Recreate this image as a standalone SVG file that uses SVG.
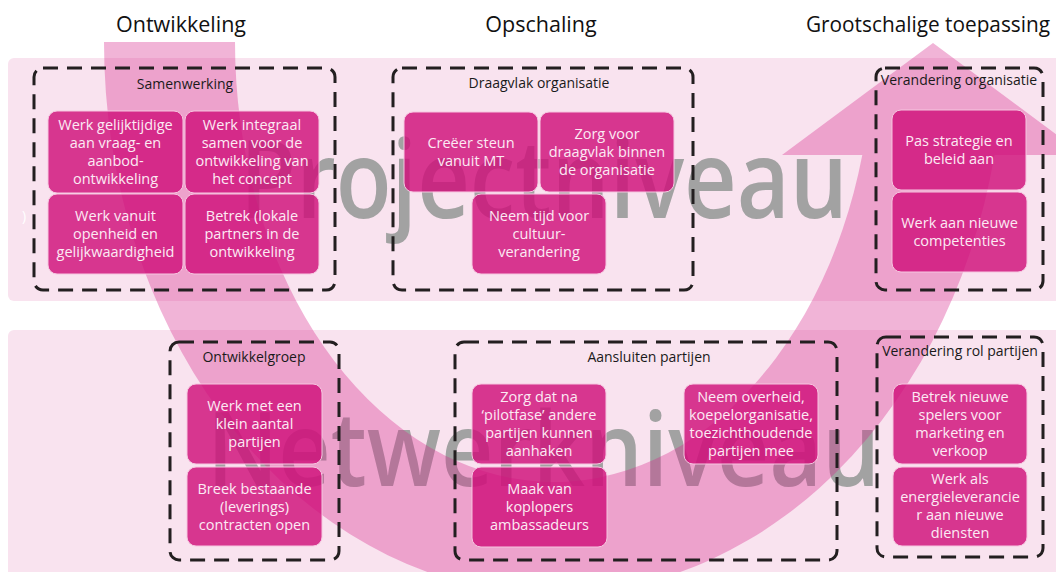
<svg xmlns="http://www.w3.org/2000/svg" width="1056" height="572" viewBox="0 0 1056 572">
<style>
text{font-family:"Open Sans","Noto Sans","DejaVu Sans",sans-serif}
.band{fill:#F9E3EF}
.wm{fill:#A2A2A2;font-weight:600}
.arrow{fill:#D6288C;fill-opacity:.35}
.box rect{fill:#D0107A;fill-opacity:.82;stroke:#F6C6E0;stroke-width:1}
.box text{fill:#FCEAF4;font-size:14.5px;text-anchor:middle}
.frame rect{fill:none;stroke:#231F20;stroke-width:3;stroke-dasharray:15 9}
.frame text{font-size:14px;fill:#1A1A1A;text-anchor:middle}
.hdr{font-size:21.5px;fill:#111}
</style>
<rect width="1056" height="572" fill="#fff"/>
<g id="bands">
<rect class="band" x="8" y="58" width="1060" height="243" rx="6"/>
<rect class="band" x="8" y="330" width="1060" height="250" rx="6"/>
</g>
<g id="watermarks">
<text class="wm" x="240" y="218" font-size="108" textLength="608" lengthAdjust="spacingAndGlyphs">Projectniveau</text>
<text class="wm" x="207" y="486" font-size="104" textLength="673" lengthAdjust="spacingAndGlyphs">Netwerkniveau</text>
</g>
<g id="connectors">
<path class="arrow" d="M104 42 A450 552 0 0 0 994.5 155 L1084 155 L933 43 L782 155 L862.3 155 A319 440 0 0 1 235 42 Z"/>
</g>
<g id="headers">
<text class="hdr" x="181" y="32" text-anchor="middle">Ontwikkeling</text>
<text class="hdr" x="541" y="32" text-anchor="middle">Opschaling</text>
<text class="hdr" x="806" y="32" textLength="244" lengthAdjust="spacingAndGlyphs">Grootschalige toepassing</text>
</g>
<text x="22" y="221" font-size="14" fill="#FFFFFF">)</text>
<g id="samenwerking" class="frame"><rect x="34" y="68" width="301" height="222" rx="9"/><text x="185" y="89">Samenwerking</text></g>
<g id="draagvlak" class="frame"><rect x="393" y="68" width="300" height="222" rx="9"/><text x="539" y="88">Draagvlak organisatie</text></g>
<g id="verandering-organisatie" class="frame"><rect x="876" y="68" width="167" height="222" rx="9"/><text x="959" y="85">Verandering organisatie</text></g>
<g id="ontwikkelgroep" class="frame"><rect x="170" y="342" width="169" height="218" rx="9"/><text x="254" y="362">Ontwikkelgroep</text></g>
<g id="aansluiten" class="frame"><rect x="455" y="342" width="382" height="218" rx="9"/><text x="649" y="362">Aansluiten partijen</text></g>
<g id="verandering-rol" class="frame"><rect x="877" y="337" width="166" height="220" rx="9"/><text x="960" y="356">Verandering rol partijen</text></g>

<g id="n1" class="box"><rect x="48" y="111" width="135" height="82" rx="9"/><text><tspan x="115.5" y="130">Werk gelijktijdige</tspan><tspan x="115.5" y="148">aan vraag- en</tspan><tspan x="115.5" y="166">aanbod-</tspan><tspan x="115.5" y="184">ontwikkeling</tspan></text></g>
<g id="n2" class="box"><rect x="185" y="111" width="134" height="82" rx="9"/><text><tspan x="252" y="130">Werk integraal</tspan><tspan x="252" y="148">samen voor de</tspan><tspan x="252" y="166">ontwikkeling van</tspan><tspan x="252" y="184">het concept</tspan></text></g>
<g id="n3" class="box"><rect x="48" y="194" width="135" height="80" rx="9"/><text><tspan x="115.5" y="221">Werk vanuit</tspan><tspan x="115.5" y="239">openheid en</tspan><tspan x="115.5" y="257">gelijkwaardigheid</tspan></text></g>
<g id="n4" class="box"><rect x="185" y="194" width="134" height="80" rx="9"/><text><tspan x="252" y="221">Betrek (lokale</tspan><tspan x="252" y="239">partners in de</tspan><tspan x="252" y="257">ontwikkeling</tspan></text></g>
<g id="n5" class="box"><rect x="404" y="112" width="134" height="80" rx="9"/><text><tspan x="471" y="148">Creëer steun</tspan><tspan x="471" y="166">vanuit MT</tspan></text></g>
<g id="n6" class="box"><rect x="540" y="112" width="134" height="80" rx="9"/><text><tspan x="607" y="139">Zorg voor</tspan><tspan x="607" y="157">draagvlak binnen</tspan><tspan x="607" y="175">de organisatie</tspan></text></g>
<g id="n7" class="box"><rect x="472" y="194" width="134" height="80" rx="9"/><text><tspan x="539" y="221">Neem tijd voor</tspan><tspan x="539" y="239">cultuur-</tspan><tspan x="539" y="257">verandering</tspan></text></g>
<g id="n8" class="box"><rect x="892" y="110" width="134" height="80" rx="9"/><text><tspan x="959" y="146">Pas strategie en</tspan><tspan x="959" y="164">beleid aan</tspan></text></g>
<g id="n9" class="box"><rect x="892" y="192" width="135" height="80" rx="9"/><text><tspan x="959.5" y="228">Werk aan nieuwe</tspan><tspan x="959.5" y="246">competenties</tspan></text></g>
<g id="n10" class="box"><rect x="187" y="384" width="135" height="80" rx="9"/><text><tspan x="254.5" y="411">Werk met een</tspan><tspan x="254.5" y="429">klein aantal</tspan><tspan x="254.5" y="447">partijen</tspan></text></g>
<g id="n11" class="box"><rect x="187" y="467" width="135" height="79" rx="9"/><text><tspan x="254.5" y="493.5">Breek bestaande</tspan><tspan x="254.5" y="511.5">(leverings)</tspan><tspan x="254.5" y="529.5">contracten open</tspan></text></g>
<g id="n12" class="box"><rect x="472" y="384" width="134" height="80" rx="9"/><text><tspan x="539" y="402">Zorg dat na</tspan><tspan x="539" y="420">‘pilotfase’ andere</tspan><tspan x="539" y="438">partijen kunnen</tspan><tspan x="539" y="456">aanhaken</tspan></text></g>
<g id="n13" class="box"><rect x="472" y="467" width="135" height="80" rx="9"/><text><tspan x="539.5" y="494">Maak van</tspan><tspan x="539.5" y="512">koplopers</tspan><tspan x="539.5" y="530">ambassadeurs</tspan></text></g>
<g id="n14" class="box"><rect x="684" y="384" width="134" height="80" rx="9"/><text><tspan x="751" y="402">Neem overheid,</tspan><tspan x="751" y="420">koepelorganisatie,</tspan><tspan x="751" y="438">toezichthoudende</tspan><tspan x="751" y="456">partijen mee</tspan></text></g>
<g id="n15" class="box"><rect x="893" y="384" width="134" height="80" rx="9"/><text><tspan x="960" y="402">Betrek nieuwe</tspan><tspan x="960" y="420">spelers voor</tspan><tspan x="960" y="438">marketing en</tspan><tspan x="960" y="456">verkoop</tspan></text></g>
<g id="n16" class="box"><rect x="893" y="467" width="134" height="79" rx="9"/><text><tspan x="960" y="484">Werk als</tspan><tspan x="960" y="502">energieleverancie</tspan><tspan x="960" y="520">r aan nieuwe</tspan><tspan x="960" y="538">diensten</tspan></text></g>
</svg>
